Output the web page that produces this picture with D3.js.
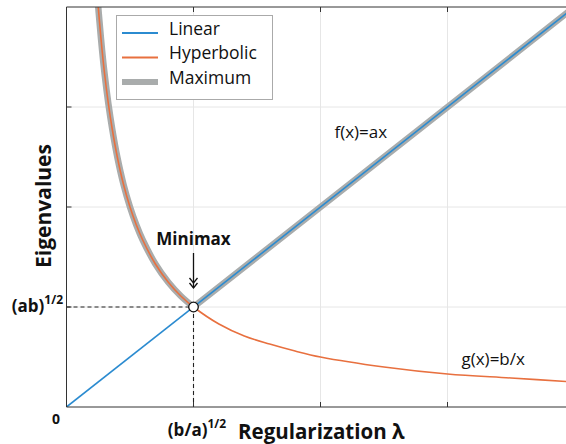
<!DOCTYPE html>
<html>
<head>
<meta charset="utf-8">
<script src="https://cdn.jsdelivr.net/npm/d3@7"></script>
<style>
  html, body { margin: 0; padding: 0; background: #fff; }
  svg { display: block; }
  text { font-family: "Open Sans", "DejaVu Sans", sans-serif; fill: #111; }
</style>
</head>
<body>
<svg id="chart" width="566" height="444"></svg>
<script>
// ---- data ----
const linearX = [0, 4];
const linearY = [0, 4];
const hyperX = [0.24, 0.25, 0.26, 0.28, 0.30, 0.33, 0.36, 0.40, 0.45, 0.50, 0.55, 0.60, 0.70, 0.80, 0.90, 1.00, 1.20, 1.40, 1.60, 1.80, 2.00, 2.50, 3.00, 3.50, 4.00];
const hyperY = [4.17, 4.00, 3.85, 3.57, 3.33, 3.03, 2.78, 2.50, 2.22, 2.00, 1.82, 1.67, 1.43, 1.25, 1.11, 1.00, 0.83, 0.71, 0.63, 0.56, 0.50, 0.40, 0.33, 0.29, 0.25];
const maxX = [0.24, 0.25, 0.26, 0.28, 0.30, 0.33, 0.36, 0.40, 0.45, 0.50, 0.55, 0.60, 0.70, 0.80, 0.90, 1.00, 4.00];
const maxY = [4.17, 4.00, 3.85, 3.57, 3.33, 3.03, 2.78, 2.50, 2.22, 2.00, 1.82, 1.67, 1.43, 1.25, 1.11, 1.00, 4.00];
const kink = [1, 1];               // minimax point
const xTicks = [1, 2, 3];
const yTicks = [1, 2, 3];
const seriesNames = ["Linear", "Hyperbolic", "Maximum"];

// ---- layout ----
const svg = d3.select("#chart");
const W = 566, H = 444;
const x = d3.scaleLinear().domain([0, 4]).range([66.5, 574.5]);
const y = d3.scaleLinear().domain([0, 4]).range([407, 7]);
const colors = { lin: "#2b8bd0", hyp: "#e8703f", max: "#a9acac" };

svg.append("defs").append("clipPath").attr("id", "clip")
  .append("rect").attr("x", x(0)).attr("y", y(4)).attr("width", W - x(0)).attr("height", y(0) - y(4));

// grid
const grid = svg.append("g").attr("stroke", "#e6e6e6").attr("stroke-width", 1);
xTicks.forEach(t => grid.append("line").attr("x1", x(t)).attr("x2", x(t)).attr("y1", y(0)).attr("y2", y(4)));
yTicks.forEach(t => grid.append("line").attr("x1", x(0)).attr("x2", W).attr("y1", y(t)).attr("y2", y(t)));

// dashed guides
const guides = svg.append("g").attr("stroke", "#222").attr("stroke-width", 1.1).attr("stroke-dasharray", "4,3");
guides.append("line").attr("x1", x(0)).attr("x2", x(kink[0])).attr("y1", y(kink[1])).attr("y2", y(kink[1]));
guides.append("line").attr("x1", x(kink[0])).attr("x2", x(kink[0])).attr("y1", y(kink[1])).attr("y2", y(0));

// curves
const plot = svg.append("g").attr("clip-path", "url(#clip)");
const lineCR = d3.line().x(d => x(d[0])).y(d => y(d[1])).curve(d3.curveCatmullRom);
const lineL = d3.line().x(d => x(d[0])).y(d => y(d[1]));
const maxPts = maxX.map((v, i) => [v, maxY[i]]);
const maxLeft = maxPts.filter(d => d[0] <= kink[0]);
const maxRight = maxPts.filter(d => d[0] >= kink[0]);
plot.append("path").attr("d", lineCR(maxLeft) + lineL(maxRight))
  .attr("fill", "none").attr("stroke", colors.max).attr("stroke-width", 6.5)
  .attr("stroke-linecap", "round").attr("stroke-linejoin", "round");
plot.append("path").attr("d", lineL(linearX.map((v, i) => [v, linearY[i]])))
  .attr("fill", "none").attr("stroke", colors.lin).attr("stroke-width", 1.6);
plot.append("path").attr("d", lineCR(hyperX.map((v, i) => [v, hyperY[i]])))
  .attr("fill", "none").attr("stroke", colors.hyp).attr("stroke-width", 1.6);

// axes frame
const axC = "#333";
svg.append("line").attr("x1", x(0)).attr("x2", x(0)).attr("y1", y(4)).attr("y2", y(0)).attr("stroke", axC);
svg.append("line").attr("x1", x(0)).attr("x2", W).attr("y1", y(0)).attr("y2", y(0)).attr("stroke", axC);
svg.append("line").attr("x1", x(0)).attr("x2", W).attr("y1", y(4)).attr("y2", y(4)).attr("stroke", axC);
const ticks = svg.append("g").attr("stroke", axC);
xTicks.forEach(t => {
  ticks.append("line").attr("x1", x(t)).attr("x2", x(t)).attr("y1", y(0)).attr("y2", y(0) - 5);
  ticks.append("line").attr("x1", x(t)).attr("x2", x(t)).attr("y1", y(4)).attr("y2", y(4) + 5);
});
yTicks.forEach(t => {
  ticks.append("line").attr("x1", x(0)).attr("x2", x(0) + 5).attr("y1", y(t)).attr("y2", y(t));
});

// minimax marker
svg.append("circle").attr("cx", x(kink[0])).attr("cy", y(kink[1])).attr("r", 4.8)
  .attr("fill", "#fff").attr("stroke", "#111").attr("stroke-width", 1.3);

// arrow
const ax0 = x(kink[0]), ayTop = y(kink[1]) - 54, ayTip = y(kink[1]) - 19;
const arr = svg.append("g").attr("stroke", "#111").attr("fill", "none").attr("stroke-width", 1.3);
arr.append("line").attr("x1", ax0).attr("x2", ax0).attr("y1", ayTop).attr("y2", ayTip);
arr.append("path").attr("d", `M${ax0 - 4},${ayTip - 10}L${ax0},${ayTip - 5}L${ax0 + 4},${ayTip - 10}`);
arr.append("path").attr("d", `M${ax0 - 4},${ayTip - 5}L${ax0},${ayTip}L${ax0 + 4},${ayTip - 5}`);
svg.append("text").attr("x", ax0).attr("y", ayTop - 8).attr("text-anchor", "middle")
  .attr("font-weight", "bold").attr("font-size", 17).text("Minimax");

// annotations
svg.append("text").attr("x", x(2.11)).attr("y", y(2.69)).attr("font-size", 17).text("f(x)=ax");
svg.append("text").attr("x", x(3.11)).attr("y", y(0.42)).attr("font-size", 17).text("g(x)=b/x");

// axis labels
svg.append("text").attr("x", 56).attr("y", y(0) + 17).attr("text-anchor", "middle")
  .attr("font-weight", "bold").attr("font-size", 14).text("0");

const tx = svg.append("text").attr("x", 197).attr("y", 436).attr("text-anchor", "middle")
  .attr("font-weight", "bold").attr("font-size", 17);
tx.append("tspan").text("(b/a)");
tx.append("tspan").attr("font-size", 12).attr("dy", -8).text("1/2");

const ty = svg.append("text").attr("x", 63).attr("y", y(kink[1]) + 5).attr("text-anchor", "end")
  .attr("font-weight", "bold").attr("font-size", 17);
ty.append("tspan").text("(ab)");
ty.append("tspan").attr("font-size", 12).attr("dy", -8).text("1/2");

svg.append("text").attr("x", 238).attr("y", 439).attr("font-weight", "bold").attr("font-size", 20.5)
  .text("Regularization λ");
svg.append("text").attr("transform", `translate(51,206) rotate(-90)`).attr("text-anchor", "middle")
  .attr("font-weight", "bold").attr("font-size", 21).text("Eigenvalues");

// legend
const lg = svg.append("g");
lg.append("rect").attr("x", 116.5).attr("y", 15.5).attr("width", 156).attr("height", 84)
  .attr("fill", "#fff").attr("stroke", "#aaa");
const lgStyles = [
  { c: colors.lin, w: 1.8 },
  { c: colors.hyp, w: 1.8 },
  { c: colors.max, w: 6 }
];
seriesNames.forEach((name, i) => {
  const yy = 33 + i * 24.5;
  lg.append("line").attr("x1", 122).attr("x2", 158).attr("y1", yy).attr("y2", yy)
    .attr("stroke", lgStyles[i].c).attr("stroke-width", lgStyles[i].w);
  lg.append("text").attr("x", 169).attr("y", yy + 1.5).attr("font-size", 17.5).text(name);
});
</script>
</body>
</html>
